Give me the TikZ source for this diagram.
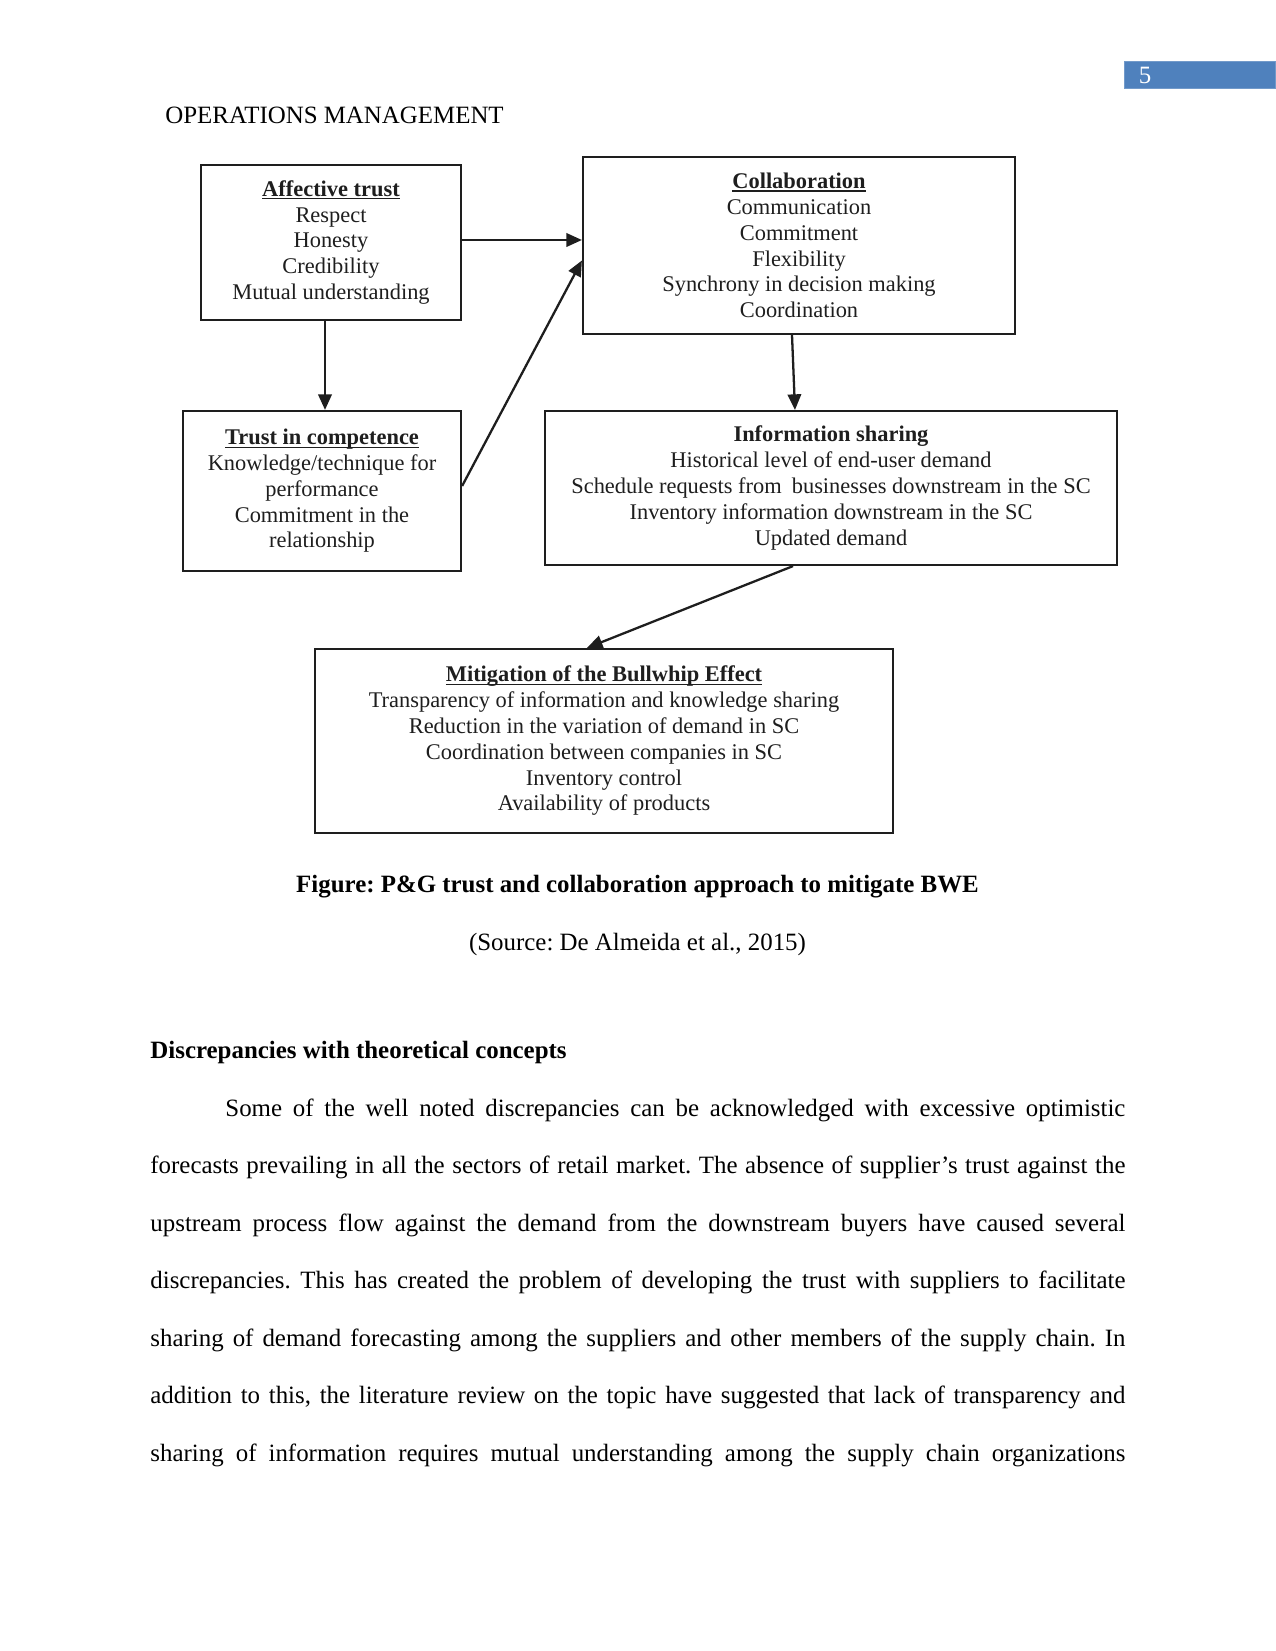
\documentclass[tikz,border=0pt]{standalone}
\usepackage{fontspec}
\setmainfont{Liberation Serif}
\usetikzlibrary{arrows.meta,calc}
\definecolor{pgblue}{RGB}{79,129,189}
\definecolor{ink}{RGB}{30,30,30}
\newcommand\dfont{\fontsize{10.8}{12.43}\selectfont}
\newcommand\bfont{\fontsize{12}{14}\selectfont}
\newcommand\jline[2]{\makebox[#1][s]{#2}}
\newcommand\myul[1]{\setbox0\hbox{#1}\rlap{\rule[-1.4pt]{\wd0}{0.55pt}}\box0}
\def\u{0.4818pt}
\frenchspacing
\begin{document}
\begin{tikzpicture}[x=0.4818pt,y=-0.4818pt,
  box/.style={draw=ink, line width=1.05pt, align=center, inner sep=0pt, font=\dfont, text=ink},
  conn/.style={draw=ink, line width=1.1pt, -{Triangle[length=7.5pt,width=6.5pt]}},
  body/.style={anchor=base west, inner sep=0pt, font=\bfont}]
\useasboundingbox (0,0) rectangle (1275,1651);
\fill[white] (0,0) rectangle (1275,1651);

% page number tab
\node[fill=pgblue, draw=pgblue!80!white, minimum width=151*\u, minimum height=27*\u, anchor=north west, inner sep=0pt] (tab) at (1124,61) {};
\node[anchor=center, inner sep=0pt, font=\bfont, text=white] (pnum) at (1145,75) {5};

% header
\node[body] (hdr) at (165,123.5) {OPERATIONS MANAGEMENT};

% diagram boxes
\node[box, minimum width=260*\u, minimum height=155*\u] (aff) at (331,242.5)
  {\myul{\textbf{Affective trust}}\\Respect\\Honesty\\Credibility\\Mutual understanding};
\node[box, minimum width=432*\u, minimum height=177*\u] (col) at (799,245.5)
  {\myul{\textbf{Collaboration}}\\Communication\\Commitment\\Flexibility\\Synchrony in decision making\\Coordination};
\node[box, minimum width=278*\u, minimum height=160*\u] (tic) at (322,491)
  {\myul{\textbf{Trust in competence}}\\Knowledge/technique for\\performance\\Commitment in the\\relationship};
\node[box, minimum width=572*\u, minimum height=154*\u] (info) at (831,488)
  {\textbf{Information sharing}\\Historical level of end-user demand\\Schedule requests from\hspace{0.45em}businesses downstream in the SC\\Inventory information downstream in the SC\\Updated demand};
\node[box, minimum width=578*\u, minimum height=184*\u] (mit) at (604,741)
  {\myul{\textbf{Mitigation of the Bullwhip Effect}}\\Transparency of information and knowledge sharing\\Reduction in the variation of demand in SC\\Coordination between companies in SC\\Inventory control\\Availability of products};

% connectors
\draw[conn] ($(aff.east)+(0,-2.5)$) -- ($(aff.east -| col.west)+(0,-2.5)$);
\draw[conn] ($(tic.north |- aff.south)+(3,0)$) -- ($(tic.north)+(3,0)$);
\draw[conn] ($(tic.east)+(0,-5)$) -- ($(col.west)+(0,15)$);
\draw[conn] ($(col.south)+(-7,0)$) -- ($(info.north)+(-36,0)$);
\draw[conn] ($(info.south)+(-38,0)$) -- ($(mit.north)+(-17,0)$);

% caption
\node[anchor=base, inner sep=0pt, font=\bfont\bfseries] (cap) at (637.5,892.5) {Figure: P\&G trust and collaboration approach to mitigate BWE};
\node[anchor=base, inner sep=0pt, font=\bfont] (src) at (637.5,950.5) {(Source: De Almeida et al., 2015)};

% heading and paragraph
\node[body, font=\bfont\bfseries] (head) at (150,1058) {Discrepancies with theoretical concepts};
\node[body] (l1) at (225,1116) {\jline{433.62pt}{Some of the well noted discrepancies can be acknowledged with excessive optimistic}};
\node[body] (l2) at (150,1173.5) {\jline{469.76pt}{forecasts prevailing in all the sectors of retail market. The absence of supplier’s trust against the}};
\node[body] (l3) at (150,1231) {\jline{469.76pt}{upstream process flow against the demand from the downstream buyers have caused several}};
\node[body] (l4) at (150,1288.5) {\jline{469.76pt}{discrepancies. This has created the problem of developing the trust with suppliers to facilitate}};
\node[body] (l5) at (150,1346) {\jline{469.76pt}{sharing of demand forecasting among the suppliers and other members of the supply chain. In}};
\node[body] (l6) at (150,1403.5) {\jline{469.76pt}{addition to this, the literature review on the topic have suggested that lack of transparency and}};
\node[body] (l7) at (150,1461) {\jline{469.76pt}{sharing of information requires mutual understanding among the supply chain organizations}};
\end{tikzpicture}
\end{document}
